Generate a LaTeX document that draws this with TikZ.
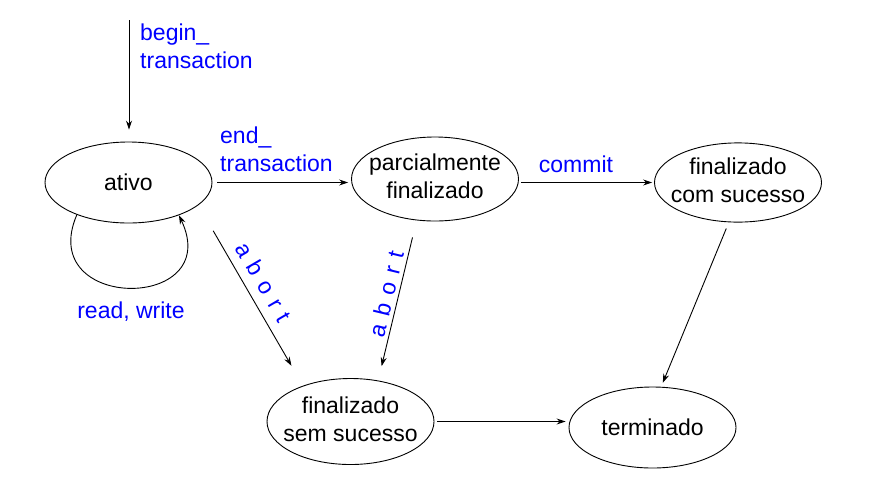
\documentclass[tikz,border=0pt]{standalone}
\usepackage{fontspec}
\setmainfont{Liberation Sans}
\usetikzlibrary{shapes.geometric,arrows.meta}
\definecolor{lblblue}{RGB}{0,0,255}
\newcommand{\twoline}[2]{\makebox[0pt][c]{\raisebox{-2.5pt}{\begin{tabular}{@{}c@{}}#1\\#2\end{tabular}}}}
\begin{document}
\begin{tikzpicture}[x=1pt,y=-1pt,
  stbox/.style={draw, ellipse, line width=0.9pt, minimum width=167pt, inner sep=0pt, align=center,
    font=\fontsize{23}{28}\selectfont},
  lbl/.style={text=lblblue, font=\fontsize{23}{28}\selectfont, inner sep=0pt},
  spaced/.style={font=\fontsize{23}{28}\selectfont\addfontfeature{LetterSpace=38}},
  arr/.style={draw, line width=0.9pt, -{Stealth[length=9pt,width=6pt,inset=3pt]}}]
\useasboundingbox (0,0) rectangle (869,488);

\node[stbox, minimum height=81pt] (ativo) at (128.5,182.5) {ativo};
\node[stbox, minimum height=84pt] (parcial) at (435,179) {\twoline{parcialmente}{finalizado}};
\node[stbox, minimum height=79pt] (com) at (738,182.5) {\twoline{finalizado}{com sucesso}};
\node[stbox, minimum height=86pt] (sem) at (350.5,421.5) {\twoline{finalizado}{sem sucesso}};
\node[stbox, minimum height=81pt] (term) at (652.5,427.5) {terminado};

\coordinate (start) at (129,20);

% begin
\draw[arr, shorten >=12pt] (start) -- (start |- ativo.north);
\node[lbl, anchor=west, align=left] (lbegin) at (140,46) {begin\_\\transaction};

% end transaction
\draw[arr, shorten <=5pt, shorten >=3pt] (ativo.east) -- (ativo.east -| parcial.west);
\node[lbl, anchor=west, align=left] (lend) at (220,149) {end\_\\transaction};

% commit
\draw[arr, shorten <=2pt, shorten >=2pt] (parcial.east |- com.west) -- (com.west);
\node[lbl] (lcommit) at (576,164) {commit};

% abort 1
\draw[arr, shorten <=29.5pt, shorten >=23pt] (ativo.-18.6) -- (sem.143.7);
\node[lbl, spaced, rotate=-59.7] (labort1) at (264,282) {abort};

% abort 2
\draw[arr, shorten <=17.5pt, shorten >=14.7pt] (parcial.-114.9) -- (sem.56.3);
\node[lbl, spaced, rotate=76.5] (labort2) at (386,294) {abort};

% com sucesso -> terminado
\draw[arr, shorten <=6.7pt, shorten >=4.3pt] (com.-103.6) -- (term.78);

% sem sucesso -> terminado
\draw[arr, shorten <=3pt, shorten >=3pt] (sem.east) -- (sem.east -| term.west);

% loop
\draw[arr] (ativo.-148.2) .. controls (35,312) and (225,312) .. (ativo.-33.4);
\node[lbl] (lrw) at (131,312) {read, write};
\end{tikzpicture}
\end{document}
